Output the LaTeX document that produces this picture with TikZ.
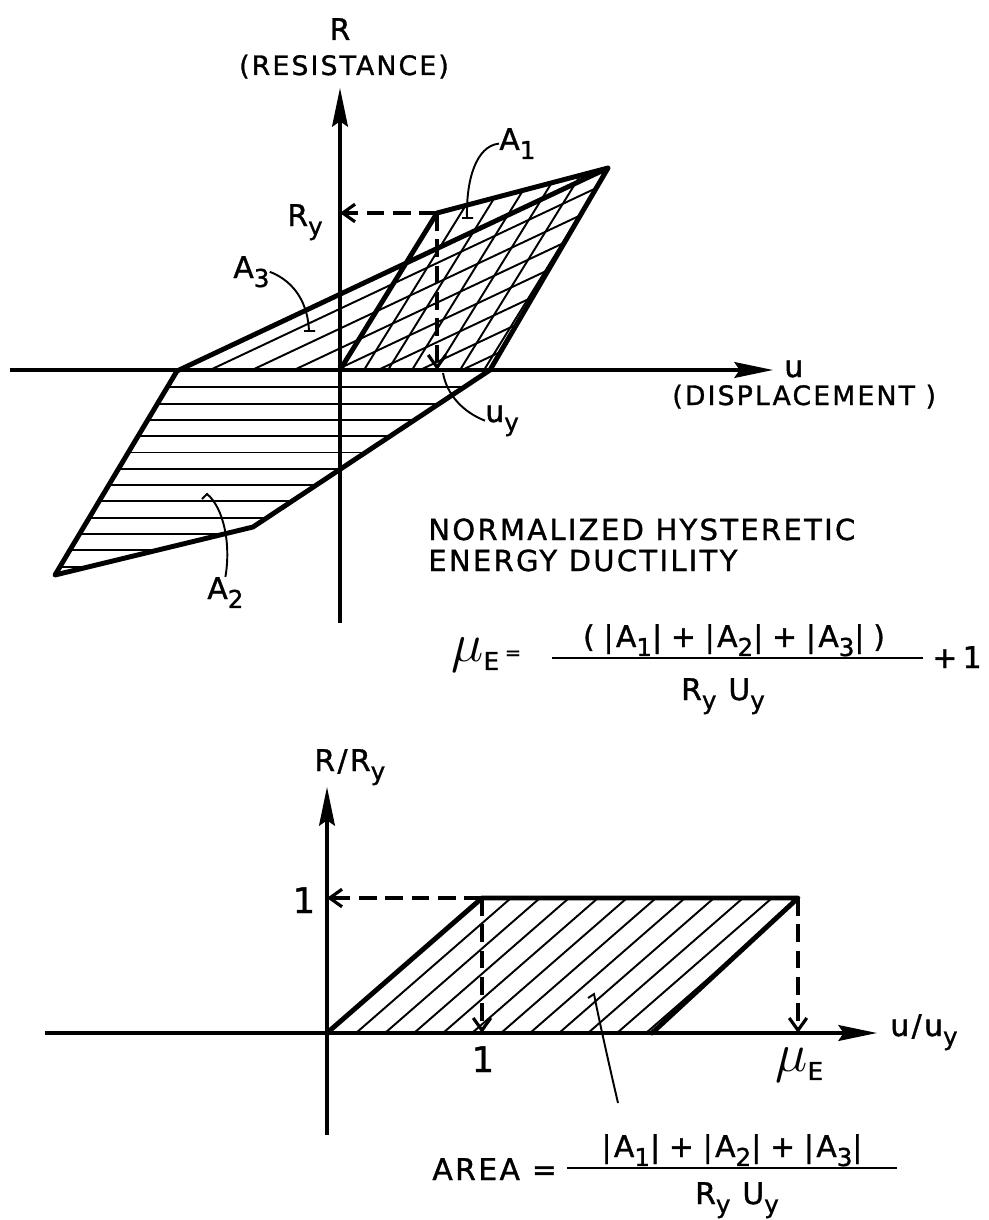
\documentclass[tikz,border=0pt]{standalone}
\usepackage{graphicx}
\usepackage{fontspec}
\setmainfont{DejaVu Sans}[LetterSpace=8, FakeBold=1.2]
\usetikzlibrary{arrows.meta}

\begin{document}
\begin{tikzpicture}[x=0.02cm, y=-0.02cm,
  loop/.style={line width=2.8pt, line join=round, line cap=round},
  axis/.style={line width=1.8pt, -{Stealth[length=22pt, width=9pt, inset=3pt]}},
  hatch/.style={line width=1.1pt},
  guide/.style={line width=1.8pt, dash pattern=on 10pt off 5pt, -{Straight Barb[length=7pt, width=10pt]}},
  lead/.style={line width=1.1pt},
  lab/.style={inner sep=0pt, font=\fontsize{17}{20}\selectfont},
  note/.style={inner sep=0pt, font=\fontsize{16.5}{20}\selectfont}]
\def\lowsub#1{\raisebox{-0.55ex}{\fontsize{14}{14}\selectfont #1}}
\def\bigmu{\scalebox{1.25}{\fontsize{24}{24}\selectfont$\mu$}}
\def\gap{\hspace{5pt}}
\useasboundingbox (0,0) rectangle (989,1220);

% upper plot: loop corners (pixel grid, y downward)
\coordinate (O) at (340,370);
\coordinate (Y) at (437,213);
\coordinate (M) at (608,168);
\coordinate (U) at (490,370);
\coordinate (K) at (253,527);
\coordinate (B) at (55,575);
\coordinate (L) at (177,371);

% hatching of A1, A3, A2
\begin{scope}
  \clip (O) -- (Y) -- (M) -- (U) -- cycle;
  \foreach \k in {1,...,6}
    \draw[hatch] (340+24*\k,370) -- ++(136,-220);
\end{scope}
\begin{scope}
  \clip (L) -- (M) -- (U) -- cycle;
  \foreach \k in {0,...,6}
    \draw[hatch] (210+42*\k,370) -- ++(431,-203);
\end{scope}
\begin{scope}
  \clip (L) -- (U) -- (K) -- (B) -- cycle;
  \foreach \k in {1,...,12}
    \draw[hatch] (40,371+16.3*\k) -- ++(460,0);
\end{scope}

% axes
\coordinate (rbot) at (340,623);
\coordinate (rtop) at (340,88);
\coordinate (uleft) at (10,370);
\coordinate (uright) at (773,370);
\draw[axis] (rbot) -- (rtop);
\draw[axis] (uleft) -- (uright);

\draw[loop] (O) -- (Y) -- (M) -- (U) -- (K) -- (B) -- (L) -- (M);
\draw[guide] (Y) -- (Y -| O);
\draw[guide] (Y) -- (Y |- O);

\node[lab, anchor=base] (rlab) at (340,40) {R};
\node[note, font=\fontsize{15.2}{18}\selectfont, anchor=base] (reslab) at (344,75) {(RESISTANCE)};
\node[lab, anchor=base west] (ulab) at (784,377) {u};
\node[note, font=\fontsize{15.2}{18}\selectfont, anchor=base west] (displab) at (672,405) {(DISPLACEMENT )};
\node[lab, anchor=base west] (rylab) at (287,226) {R\lowsub{y}};
\node[lab, anchor=base west] (a1lab) at (499,150) {A\lowsub{1}};
\node[lab, anchor=base west] (a3lab) at (233,278) {A\lowsub{3}};
\node[lab, anchor=base west] (a2lab) at (207,599) {A\lowsub{2}};
\node[lab, anchor=base west] (uylab) at (485,422) {u\lowsub{y}};

% leaders
\coordinate (a1end) at (467,218);
\coordinate (a3end) at (309,331);
\coordinate (uyend) at (443,373);
\coordinate (a2end) at (207,494);
\draw[lead] (a1lab.west) .. controls (476,146) and (466,180) .. (a1end) ++(-5,0) -- ++(11,0);
\draw[lead] (a3lab.east) .. controls (296,282) and (308,305) .. (a3end) ++(-5,0) -- ++(11,0);
\draw[lead] (uylab.west) .. controls (463,412) and (447,395) .. (uyend);
\draw[lead] (a2lab.north) .. controls (231,545) and (224,508) .. (a2end) -- ++(-5,5);

% definition
\node[note, anchor=base west] (normlab) at (428,540) {NORMALIZED HYSTERETIC};
\node[note, anchor=base west] (energylab) at (428,571) {ENERGY DUCTILITY};
\node[lab, anchor=base west] (mulab) at (451,661) {\bigmu\lowsub{E}};
\node[lab, font=\fontsize{11}{11}\selectfont] (eqlab) at (513,655) {=};
\coordinate (bar1l) at (552,658);
\coordinate (bar1r) at (923,658);
\draw[line width=1.3pt] (bar1l) -- (bar1r);
\node[lab, anchor=base] (num1) at (734,647) {(\gap|A\lowsub{1}|\gap+\gap|A\lowsub{2}|\gap+\gap|A\lowsub{3}|\gap)};
\node[lab, anchor=base] (den1) at (723,700) {R\lowsub{y} U\lowsub{y}};
\node[lab, anchor=base east] (plus1) at (982,668) {+\hspace{3pt}1};

% lower plot
\coordinate (P0) at (327,1033);
\coordinate (P1) at (482,898);
\coordinate (P2) at (798,898);
\coordinate (P3) at (652,1033);
\begin{scope}
  \clip (P0) -- (P1) -- (P2) -- (P3) -- cycle;
  \foreach \k in {1,...,11}
    \draw[hatch] (327+29*\k,1033) -- ++(186,-162);
\end{scope}
\coordinate (vbot) at (327,1135);
\coordinate (vtop) at (327,787);
\coordinate (hleft) at (45,1033);
\coordinate (hright) at (877,1033);
\draw[axis] (vbot) -- (vtop);
\draw[axis] (hleft) -- (hright);
\draw[loop] (P0) -- (P1) -- (P2) -- (P3);
\draw[guide] (P1) -- (P1 -| P0);
\draw[guide] (P1) -- (P1 |- P0);
\draw[guide] (P2) -- (P2 |- P0);

\node[lab, anchor=base west] (rrylab) at (314,771) {R/R\lowsub{y}};
\node[lab, font=\fontsize{20}{20}\selectfont, anchor=base] (onelab) at (304,913) {1};
\node[lab, font=\fontsize{20}{20}\selectfont, anchor=base] (onexlab) at (483,1072) {1};
\node[lab, anchor=base west] (muxlab) at (775,1071) {\bigmu\lowsub{E}};
\node[lab, anchor=base west] (uuylab) at (890,1036) {u/u\lowsub{y}};

\node[lab, anchor=base west] (arealab) at (432,1180) {AREA =};
\coordinate (bar2l) at (567,1168);
\coordinate (bar2r) at (897,1168);
\draw[line width=1.3pt] (bar2l) -- (bar2r);
\node[lab, anchor=base] (num2) at (732,1157) {|A\lowsub{1}|\gap+\gap|A\lowsub{2}|\gap+\gap|A\lowsub{3}|};
\node[lab, anchor=base] (den2) at (737,1204) {R\lowsub{y} U\lowsub{y}};
\coordinate (areafoot) at (618,1103);
\coordinate (areatip) at (594,994);
\draw[lead] (areafoot) .. controls (608,1060) and (598,1015) .. (areatip) -- ++(-6,4);
\end{tikzpicture}
\end{document}
